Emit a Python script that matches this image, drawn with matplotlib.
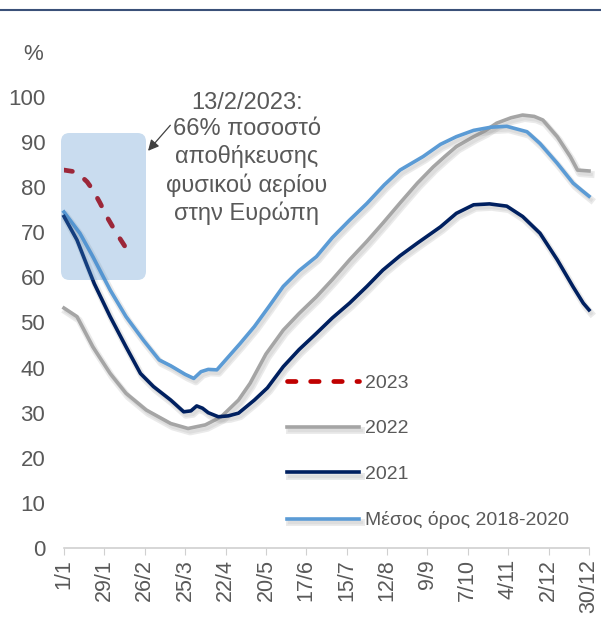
import matplotlib
matplotlib.use('Agg')
import matplotlib.pyplot as plt
import matplotlib.patheffects as pe
from matplotlib.patches import FancyBboxPatch
from matplotlib.lines import Line2D

# ημέρες του έτους (0 = 1/1) και ποσοστά αποθήκευσης
avg_days = [0, 11, 20, 32, 43, 55, 66, 74, 84, 90, 95, 100, 106, 114, 122, 132, 142, 152, 163, 175,
            186, 198, 210, 222, 233, 249, 261, 272, 284, 296, 307, 321, 330, 342, 353, 359, 364]
avg_vals = [74.5, 69.8, 64.6, 57.2, 51.3, 46.1, 41.7, 40.4, 38.5, 37.6, 39.1, 39.6, 39.5, 42.4, 45.3, 49.1,
            53.5, 58.0, 61.5, 64.6, 68.8, 72.7, 76.4, 80.5, 83.8, 86.8, 89.5, 91.2, 92.6, 93.3, 93.5,
            92.3, 89.7, 85.3, 80.9, 79.3, 78.0]

y2022_days = [0, 9, 20, 32, 43, 57, 74, 86, 98, 109, 121, 129, 140, 152, 163, 175, 186, 198, 210, 221,
              233, 245, 256, 264, 272, 284, 292, 300, 310, 318, 326, 332, 342, 351, 356, 364]
y2022_vals = [53.2, 51.3, 44.6, 38.7, 34.3, 30.6, 27.6, 26.5, 27.3, 29.1, 32.8, 36.5, 43.0, 48.3, 52.0,
              55.7, 59.5, 63.9, 68.0, 72.0, 76.5, 80.9, 84.5, 86.8, 89.0, 91.2, 92.5, 94.2, 95.4, 96.0,
              95.7, 94.9, 91.2, 86.8, 83.8, 83.6]

y2021_days = [0, 9, 16, 21, 32, 43, 53, 62, 74, 83, 88, 92, 96, 100, 107, 114, 121, 132, 141, 152, 163,
              175, 186, 198, 210, 221, 233, 245, 261, 272, 284, 295, 307, 318, 330, 342, 353, 360, 364]
y2021_vals = [73.5, 68.3, 62.6, 58.6, 51.3, 44.6, 38.7, 35.8, 32.8, 30.2, 30.4, 31.5, 31.0, 30.0, 29.1,
              29.3, 29.9, 32.8, 35.5, 40.2, 44.0, 47.6, 51.0, 54.3, 58.0, 61.6, 64.8, 67.6, 71.2, 74.2,
              76.1, 76.3, 75.8, 73.5, 69.8, 63.9, 57.9, 54.3, 52.8]

y2023_days = [0, 6, 11, 16, 20, 25, 30, 36, 40, 44]
y2023_vals = [83.8, 83.5, 82.7, 81.2, 79.4, 76.5, 73.3, 70.0, 68.0, 66.0]

tick_days = list(range(0, 365, 28))
tick_labels = ['1/1', '29/1', '26/2', '25/3', '22/4', '20/5', '17/6', '15/7',
               '12/8', '9/9', '7/10', '4/11', '2/12', '30/12']

txt = '#595959'
plt.rcParams['font.family'] = ['Liberation Sans', 'DejaVu Sans']

fig = plt.figure(figsize=(6.01, 6.21), dpi=100)
ax = fig.add_axes([64/601, 73/621, 525/601, 451/621])

shadow = [pe.SimpleLineShadow(offset=(1.5, -2.5), shadow_color='gray', alpha=0.16, linewidth=5),
          pe.SimpleLineShadow(offset=(1.5, -2.5), shadow_color='gray', alpha=0.12, linewidth=2.5),
          pe.Normal()]

l_avg, = ax.plot(avg_days, avg_vals, color='#5B9BD5', lw=2.6, path_effects=shadow,
                 label='Μέσος όρος 2018-2020', clip_on=False, zorder=3)
l21, = ax.plot(y2021_days, y2021_vals, color='#002060', lw=2.6, path_effects=shadow,
               label='2021', clip_on=False, zorder=3)
l22, = ax.plot(y2022_days, y2022_vals, color='#A5A5A5', lw=2.6, path_effects=shadow,
               label='2022', clip_on=False, zorder=2)
l23, = ax.plot(y2023_days, y2023_vals, color='#C00000', lw=3.4, ls=(0, (1.8, 3.1)),
               dash_capstyle='round', label='2023', zorder=4)

# πλαίσιο επισήμανσης (σε συντεταγμένες σχήματος)
box = FancyBboxPatch((61/601, 1 - 280/621), 85/601, 147/621,
                     boxstyle='round,pad=0,rounding_size=0.014',
                     facecolor='#4588C8', edgecolor='none', alpha=0.29, zorder=5,
                     transform=fig.transFigure)
fig.add_artist(box)

ax.annotate('', xy=(57, 87.6), xytext=(75, 94.2),
            arrowprops=dict(arrowstyle='-|>', color='#404040', lw=0.9, mutation_scale=16))
ax.text(126.6, 101.2, '13/2/2023:\n66% ποσοστό\nαποθήκευσης\nφυσικού αερίου\nστην Ευρώπη',
        ha='center', va='top', fontsize=17, color=txt, linespacing=1.27)

ax.set_xlim(0, 364)
ax.set_ylim(0, 100)
ax.set_yticks(range(0, 101, 10))
ax.set_xticks(tick_days)
ax.set_xticklabels(tick_labels, rotation=90)
ax.tick_params(axis='y', length=0, labelsize=16, labelcolor=txt, pad=13.5)
ax.tick_params(axis='x', length=5, color='#D0D0D0', labelsize=15.5, labelcolor=txt, pad=3)
for s in ['top', 'right', 'left']:
    ax.spines[s].set_visible(False)
ax.spines['bottom'].set_color('#D0D0D0')
ax.spines['bottom'].set_linewidth(1.2)

fig.text(33/601, 1 - 55/621, '%', ha='center', va='center', fontsize=16, color=txt)

leg = ax.legend(handles=[l23, l22, l21, l_avg], loc='upper left',
                bbox_to_anchor=(287/601, 1 - 374/621), bbox_transform=fig.transFigure,
                frameon=False, fontsize=14, handlelength=3.7, handletextpad=0.3,
                labelspacing=1.45, borderpad=0, borderaxespad=0)
for t in leg.get_texts():
    t.set_color(txt)

# γραμμή στην κορυφή
fig.add_artist(Line2D([0, 1], [1 - 10/621, 1 - 10/621], color='#3A5078', lw=1.5))

fig.savefig('out.png', dpi=100)
